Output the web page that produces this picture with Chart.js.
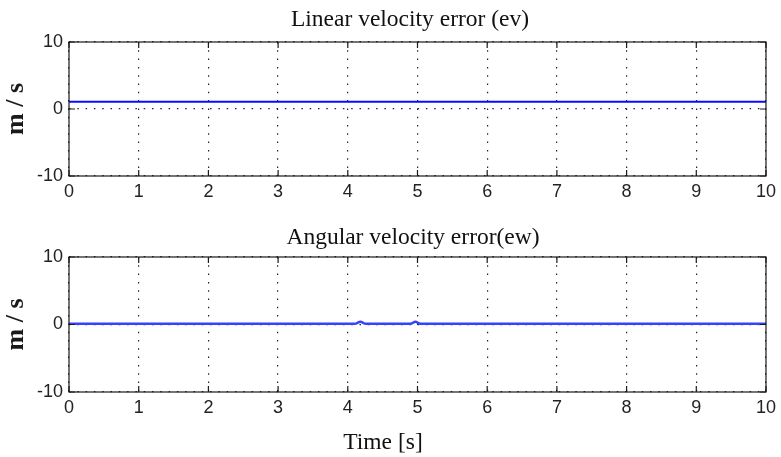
<!DOCTYPE html>
<html>
<head>
<meta charset="utf-8">
<script src="https://cdn.jsdelivr.net/npm/chart.js@4/dist/chart.umd.min.js"></script>
<style>
  html, body { margin: 0; padding: 0; background: #fff; }
  #wrap { position: relative; width: 781px; height: 457px; }
  canvas { position: absolute; left: 0; }
  #evChart { top: 0; }
  #ewChart { top: 215px; }
</style>
</head>
<body>
<div id="wrap">
  <canvas id="evChart" width="781" height="215"></canvas>
  <canvas id="ewChart" width="781" height="242"></canvas>
</div>
<script>
// Simulation time [s] and tracking errors
const evTime   = [0, 1, 2, 3, 4, 5, 6, 7, 8, 9, 10];
const evValues = [1.1, 1.1, 1.1, 1.1, 1.1, 1.1, 1.1, 1.1, 1.1, 1.1, 1.1];

const ewTime   = [0, 1, 2, 3, 4, 4.1, 4.18, 4.26, 4.9, 4.97, 5.04, 6, 7, 8, 9, 10];
const ewValues = [0.1, 0.1, 0.1, 0.1, 0.1, 0.1, 0.4, 0.1, 0.1, 0.4, 0.1, 0.1, 0.1, 0.1, 0.1, 0.1];

const xTickValues = [0, 1, 2, 3, 4, 5, 6, 7, 8, 9, 10];
const yTickValues = [-10, 0, 10];

const titles = {
  ev: 'Linear velocity error (ev)',
  ew: 'Angular velocity error(ew)',
  time: 'Time [s]',
  unit: 'm / s'
};

const serif = '"Liberation Serif", "Times New Roman", serif';
const sans = '"Liberation Sans", Arial, sans-serif';

function toPoints(xs, ys) {
  return xs.map((x, i) => ({ x: x, y: ys[i] }));
}

// Closed axes box with inward tick marks on all four sides, plus captions
const framePlugin = {
  id: 'frame',
  afterDraw(chart, args, opts) {
    const { ctx, chartArea: a, scales } = chart;
    const tl = 6;
    ctx.save();
    ctx.strokeStyle = '#1a1a1a';
    ctx.lineWidth = 1.2;
    ctx.setLineDash([]);
    ctx.strokeRect(a.left, a.top, a.right - a.left, a.bottom - a.top);
    ctx.beginPath();
    xTickValues.forEach(v => {
      const px = scales.x.getPixelForValue(v);
      ctx.moveTo(px, a.bottom); ctx.lineTo(px, a.bottom - tl);
      ctx.moveTo(px, a.top); ctx.lineTo(px, a.top + tl);
    });
    yTickValues.forEach(v => {
      const py = scales.y.getPixelForValue(v);
      ctx.moveTo(a.left, py); ctx.lineTo(a.left + tl, py);
      ctx.moveTo(a.right, py); ctx.lineTo(a.right - tl, py);
    });
    ctx.stroke();

    ctx.fillStyle = '#111';
    ctx.font = '23.5px ' + serif;
    ctx.textAlign = 'center';
    ctx.textBaseline = 'alphabetic';
    (opts.captions || []).forEach(c => ctx.fillText(c.text, c.x, c.y));
    ctx.restore();
  }
};

function makeOptions(captions) {
  return {
    responsive: false,
    animation: false,
    layout: { padding: { left: 0, right: 13, top: 42, bottom: captions.bottomPad } },
    plugins: {
      legend: { display: false },
      tooltip: { enabled: false },
      frame: { captions: captions.list }
    },
    scales: {
      x: {
        type: 'linear',
        min: 0, max: 10,
        afterFit(s) { s.height = 30; },
        afterBuildTicks(s) { s.ticks = xTickValues.map(v => ({ value: v })); },
        ticks: { padding: 5, color: '#222', font: { family: sans, size: 18 } },
        grid: { color: '#222', lineWidth: 1.2, drawTicks: false },
        border: { display: false, dash: [1.5, 6.8] }
      },
      y: {
        min: -10, max: 10,
        z: 1,
        afterFit(s) { s.width = 69; },
        afterBuildTicks(s) { s.ticks = yTickValues.map(v => ({ value: v })); },
        ticks: { padding: 6, color: '#222', font: { family: sans, size: 18 } },
        grid: { color: '#222', lineWidth: 1.2, drawTicks: false },
        border: { display: false, dash: [1.5, 6.8] },
        title: {
          display: true,
          text: titles.unit,
          color: '#1a1a1a',
          padding: { top: 1, bottom: 0 },
          font: { family: serif, size: 26, weight: 'bold', lineHeight: 1.2 }
        }
      }
    }
  };
}

new Chart(document.getElementById('evChart'), {
  type: 'line',
  data: {
    datasets: [{
      label: 'ev',
      data: toPoints(evTime, evValues),
      borderColor: '#0a0aff',
      borderWidth: 2,
      pointRadius: 0,
      tension: 0
    }]
  },
  options: makeOptions({
    bottomPad: 215 - 176 - 30,
    list: [{ text: titles.ev, x: 410, y: 26 }]
  }),
  plugins: [framePlugin]
});

new Chart(document.getElementById('ewChart'), {
  type: 'line',
  data: {
    datasets: [{
      label: 'ew',
      data: toPoints(ewTime, ewValues),
      borderColor: '#3344ff',
      borderWidth: 2.5,
      pointRadius: 0,
      cubicInterpolationMode: 'monotone'
    }]
  },
  options: makeOptions({
    bottomPad: 242 - 177 - 30,
    list: [
      { text: titles.ew, x: 413, y: 29 },
      { text: titles.time, x: 383, y: 234 }
    ]
  }),
  plugins: [framePlugin]
});
</script>
</body>
</html>
